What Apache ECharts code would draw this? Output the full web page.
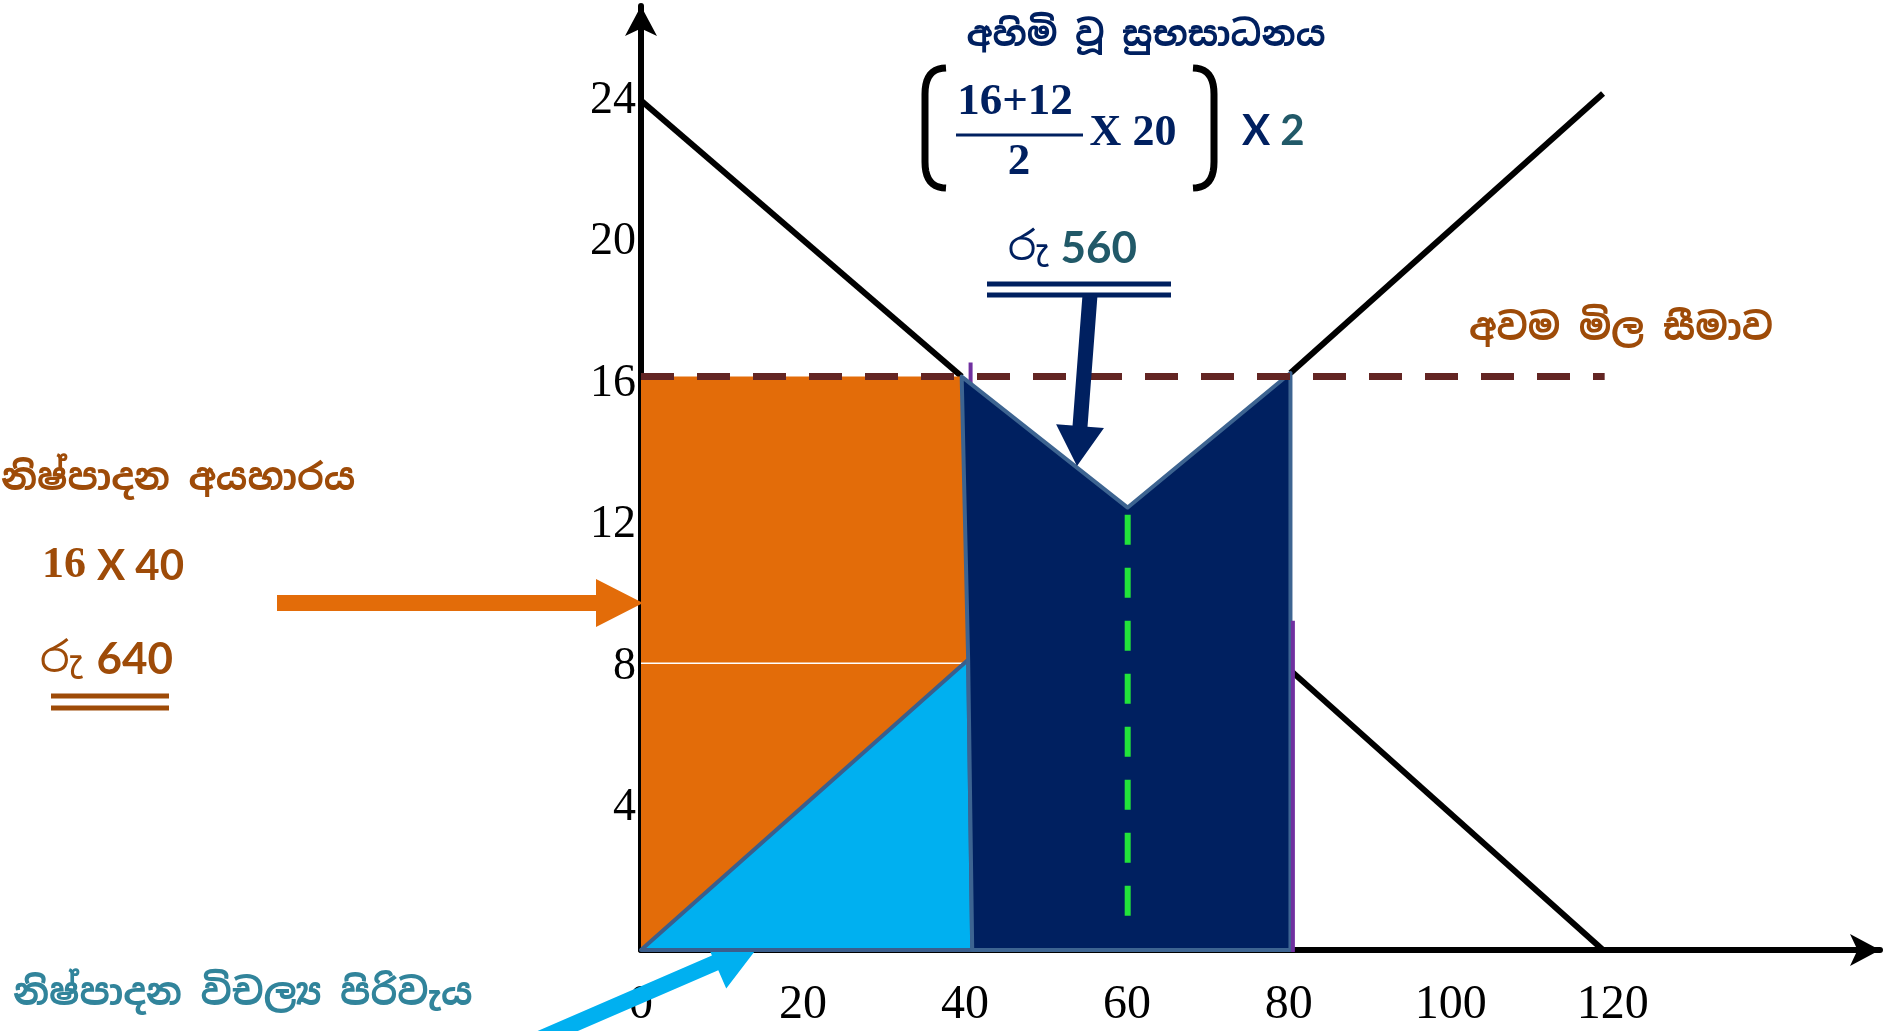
<!DOCTYPE html>
<html><head><meta charset="utf-8">
<script src="https://cdn.jsdelivr.net/npm/echarts@6/dist/echarts.min.js"></script>
<style>html,body{margin:0;padding:0;background:#fff}#c{width:1883px;height:1031px}</style>
</head><body><div id="c"></div>
<script>
// ---- data (quantity, price) ----
const xTickLabels = [0, 20, 40, 60, 80, 100, 120];
const yTickLabels = [4, 8, 12, 16, 20, 24];
const demandUpper = [[0, 24], [39.6, 16.2]];
const demandLower = [[80.2, 7.9], [118.8, 0]];
const supplyUpper = [[80.2, 16.3], [118.8, 24.2]];
const priceFloor = [[0, 16.2], [119, 16.2]];
const producerRevenue = [[0, 0], [0, 16.2], [39.6, 16.2], [40.4, 8.2]];
const variableCost = [[0, 0], [40.4, 8.2], [40.9, 0]];
const welfareLoss = [[39.6, 16.2], [60.1, 12.5], [80.2, 16.3], [80.2, 0], [40.9, 0], [40.4, 8.2]];
const revenueSplit = [[0, 8.1], [40.3, 8.1]];
const midQuantity = [[60.1, 12.3], [60.1, 0.4]];
const qLineLeft = [[40.7, 16.6], [40.7, -0.3]];
const qLineRight = [[80.5, 9.3], [80.5, -0.3]];

const SIN = "'Noto Sans Sinhala','Noto Serif Sinhala','Iskoola Pota','Noto Sans',sans-serif";
const NAVY = '#002060', TEAL = '#215968', BROWN = '#9E4B08';

function polySeries(name, pts, fill, stroke, lw, z) {
  return {
    type: 'custom', name, z, data: pts, encode: { x: 0, y: 1 }, silent: true, animation: false,
    renderItem: (params, api) => {
      if (params.dataIndex !== 0) return null;
      return { type: 'polygon', shape: { points: pts.map(p => api.coord(p)) },
        style: { fill, stroke, lineWidth: lw, lineJoin: 'round' } };
    }
  };
}
function lineSeries(name, pts, color, width, type, z) {
  return { type: 'line', name, data: pts, symbol: 'none', z, silent: true, animation: false,
    lineStyle: { color, width, type, cap: 'butt' } };
}
function arrowPts(x1, y1, x2, y2, sw, hw, hl) {
  const dx = x2 - x1, dy = y2 - y1, L = Math.hypot(dx, dy), ux = dx / L, uy = dy / L, nx = -uy, ny = ux;
  const bx = x2 - ux * hl, by = y2 - uy * hl;
  return [[x1 + nx * sw / 2, y1 + ny * sw / 2], [bx + nx * sw / 2, by + ny * sw / 2], [bx + nx * hw, by + ny * hw],
    [x2, y2], [bx - nx * hw, by - ny * hw], [bx - nx * sw / 2, by - ny * sw / 2], [x1 - nx * sw / 2, y1 - ny * sw / 2]];
}
function bracketPts(xOuter, xInner, yTop, yBot, r) {
  const pts = [];
  const q = (p0, p1, p2, t) => (1 - t) * (1 - t) * p0 + 2 * (1 - t) * t * p1 + t * t * p2;
  for (let i = 0; i <= 10; i++) { const t = i / 10; pts.push([q(xInner, xOuter, xOuter, t), q(yTop, yTop, yTop + r, t)]); }
  for (let i = 0; i <= 10; i++) { const t = i / 10; pts.push([q(xOuter, xOuter, xInner, t), q(yBot - r, yBot, yBot, t)]); }
  return pts;
}
function txt(text, x, y, font, fill, align) {
  return { type: 'text', z: 100, silent: true,
    style: { text, x, y, font, fill, align: align || 'center', verticalAlign: 'middle',
      textAlign: align || 'center', textVerticalAlign: 'middle' } };
}
function richTxt(text, x, y, align, rich) {
  return { type: 'text', z: 100, silent: true,
    style: { text, x, y, align, verticalAlign: 'middle', textAlign: align, textVerticalAlign: 'middle', rich } };
}
function hline(x1, x2, y, color, w) {
  return { type: 'line', z: 100, silent: true, shape: { x1, y1: y, x2, y2: y }, style: { stroke: color, lineWidth: w } };
}

const chart = echarts.init(document.getElementById('c'), null, { renderer: 'canvas' });
chart.setOption({
  animation: false,
  backgroundColor: '#ffffff',
  grid: { left: 641, right: 2, top: 6, bottom: 81, containLabel: false },
  xAxis: {
    type: 'value', min: 0, max: 153, interval: 20,
    axisLine: { onZero: true, lineStyle: { color: '#000', width: 6 }, symbol: ['none', 'arrow'], symbolSize: [24, 30] },
    axisTick: { show: false }, splitLine: { show: false },
    axisLabel: { formatter: v => xTickLabels.includes(v) ? String(v) : '', color: '#000',
      fontFamily: "'Liberation Serif',serif", fontSize: 48, margin: 31 }
  },
  yAxis: {
    type: 'value', min: 0, max: 26.67, interval: 4,
    axisLine: { onZero: true, lineStyle: { color: '#000', width: 6 }, symbol: ['none', 'arrow'], symbolSize: [24, 30] },
    axisTick: { show: false }, splitLine: { show: false },
    axisLabel: { formatter: v => yTickLabels.includes(v) ? String(v) : '', color: '#000',
      fontFamily: "'Liberation Serif',serif", fontSize: 46, margin: 5 }
  },
  series: [
    lineSeries('demandUpper', demandUpper, '#000', 6, 'solid', 2),
    lineSeries('demandLower', demandLower, '#000', 6, 'solid', 2),
    lineSeries('supplyUpper', supplyUpper, '#000', 6, 'solid', 2),
    lineSeries('qLineLeft', qLineLeft, '#7030A0', 4, 'solid', 2),
    polySeries('producerRevenue', producerRevenue, '#E36C09', null, 0, 3),
    lineSeries('revenueSplit', revenueSplit, '#ffffff', 1.5, 'solid', 3),
    polySeries('variableCost', variableCost, '#00B0F0', '#3B5E8C', 4, 4),
    polySeries('welfareLoss', welfareLoss, NAVY, '#3D6491', 4, 5),
    lineSeries('qLineRight', qLineRight, '#7030A0', 4, 'solid', 6),
    lineSeries('midQuantity', midQuantity, '#22E33A', 6, [30, 23], 7),
    lineSeries('priceFloor', priceFloor, '#632523', 7, [33, 23], 8)
  ],
  graphic: [
    { type: 'polygon', z: 1, silent: true, shape: { points: arrowPts(530, 1043, 761, 943, 16, 28, 50) }, style: { fill: '#00B0F0' } },
    { type: 'polygon', z: 100, silent: true, shape: { points: arrowPts(277, 603, 643, 603, 16, 24, 47) }, style: { fill: '#E36C09' } },
    { type: 'polygon', z: 100, silent: true, shape: { points: arrowPts(1090, 295, 1077, 466, 15, 24, 40) }, style: { fill: NAVY } },
    txt('අහිමි වූ සුභසාධනය', 1146, 36, 'bold 35px ' + SIN, NAVY),
    { type: 'polyline', z: 100, silent: true, shape: { points: bracketPts(925, 946, 68, 188, 26) },
      style: { fill: null, stroke: '#000', lineWidth: 7 } },
    { type: 'polyline', z: 100, silent: true, shape: { points: bracketPts(1214, 1193, 68, 188, 26) },
      style: { fill: null, stroke: '#000', lineWidth: 7 } },
    txt('16+12', 1015, 102, "bold 45px 'Liberation Serif',serif", NAVY),
    hline(956, 1083, 135, NAVY, 3),
    txt('2', 1019, 162, "bold 45px 'Liberation Serif',serif", NAVY),
    txt('X 20', 1133, 134, "bold 44px 'Liberation Serif',serif", NAVY),
    richTxt('{a|X\u00a0}{b|2}', 1242, 131, 'left', {
      a: { fill: NAVY, font: "bold 42px Lato,sans-serif" }, b: { fill: TEAL, font: "bold 42px Lato,sans-serif" } }),
    richTxt('{a|රු}{b|560}', 1008, 249, 'left', {
      a: { fill: NAVY, font: '40px ' + SIN }, b: { fill: TEAL, font: "bold 44px Lato,sans-serif", padding: [0, 0, 0, 12] } }),
    hline(987, 1171, 284, NAVY, 5),
    hline(987, 1171, 295, NAVY, 5),
    txt('අවම මිල සීමාව', 1621, 330, 'bold 37px ' + SIN, BROWN),
    txt('නිෂ්පාදන අයහාරය', 1, 480, 'bold 37px ' + SIN, BROWN, 'left'),
    richTxt('{a|16\u00a0}{b|X 40}', 42, 566, 'left', {
      a: { fill: BROWN, font: "bold 44px 'Liberation Serif',serif" }, b: { fill: BROWN, font: "bold 42px Lato,sans-serif" } }),
    richTxt('{a|රු}{b|640}', 40, 660, 'left', {
      a: { fill: BROWN, font: '42px ' + SIN }, b: { fill: BROWN, font: "bold 44px Lato,sans-serif", padding: [0, 0, 0, 14] } }),
    hline(51, 169, 696, BROWN, 5),
    hline(51, 169, 708, BROWN, 5),
    txt('නිෂ්පාදන විචල්‍ය පිරිවැය', 13, 995, 'bold 37px ' + SIN, '#31849B', 'left')
  ]
});
</script></body></html>
